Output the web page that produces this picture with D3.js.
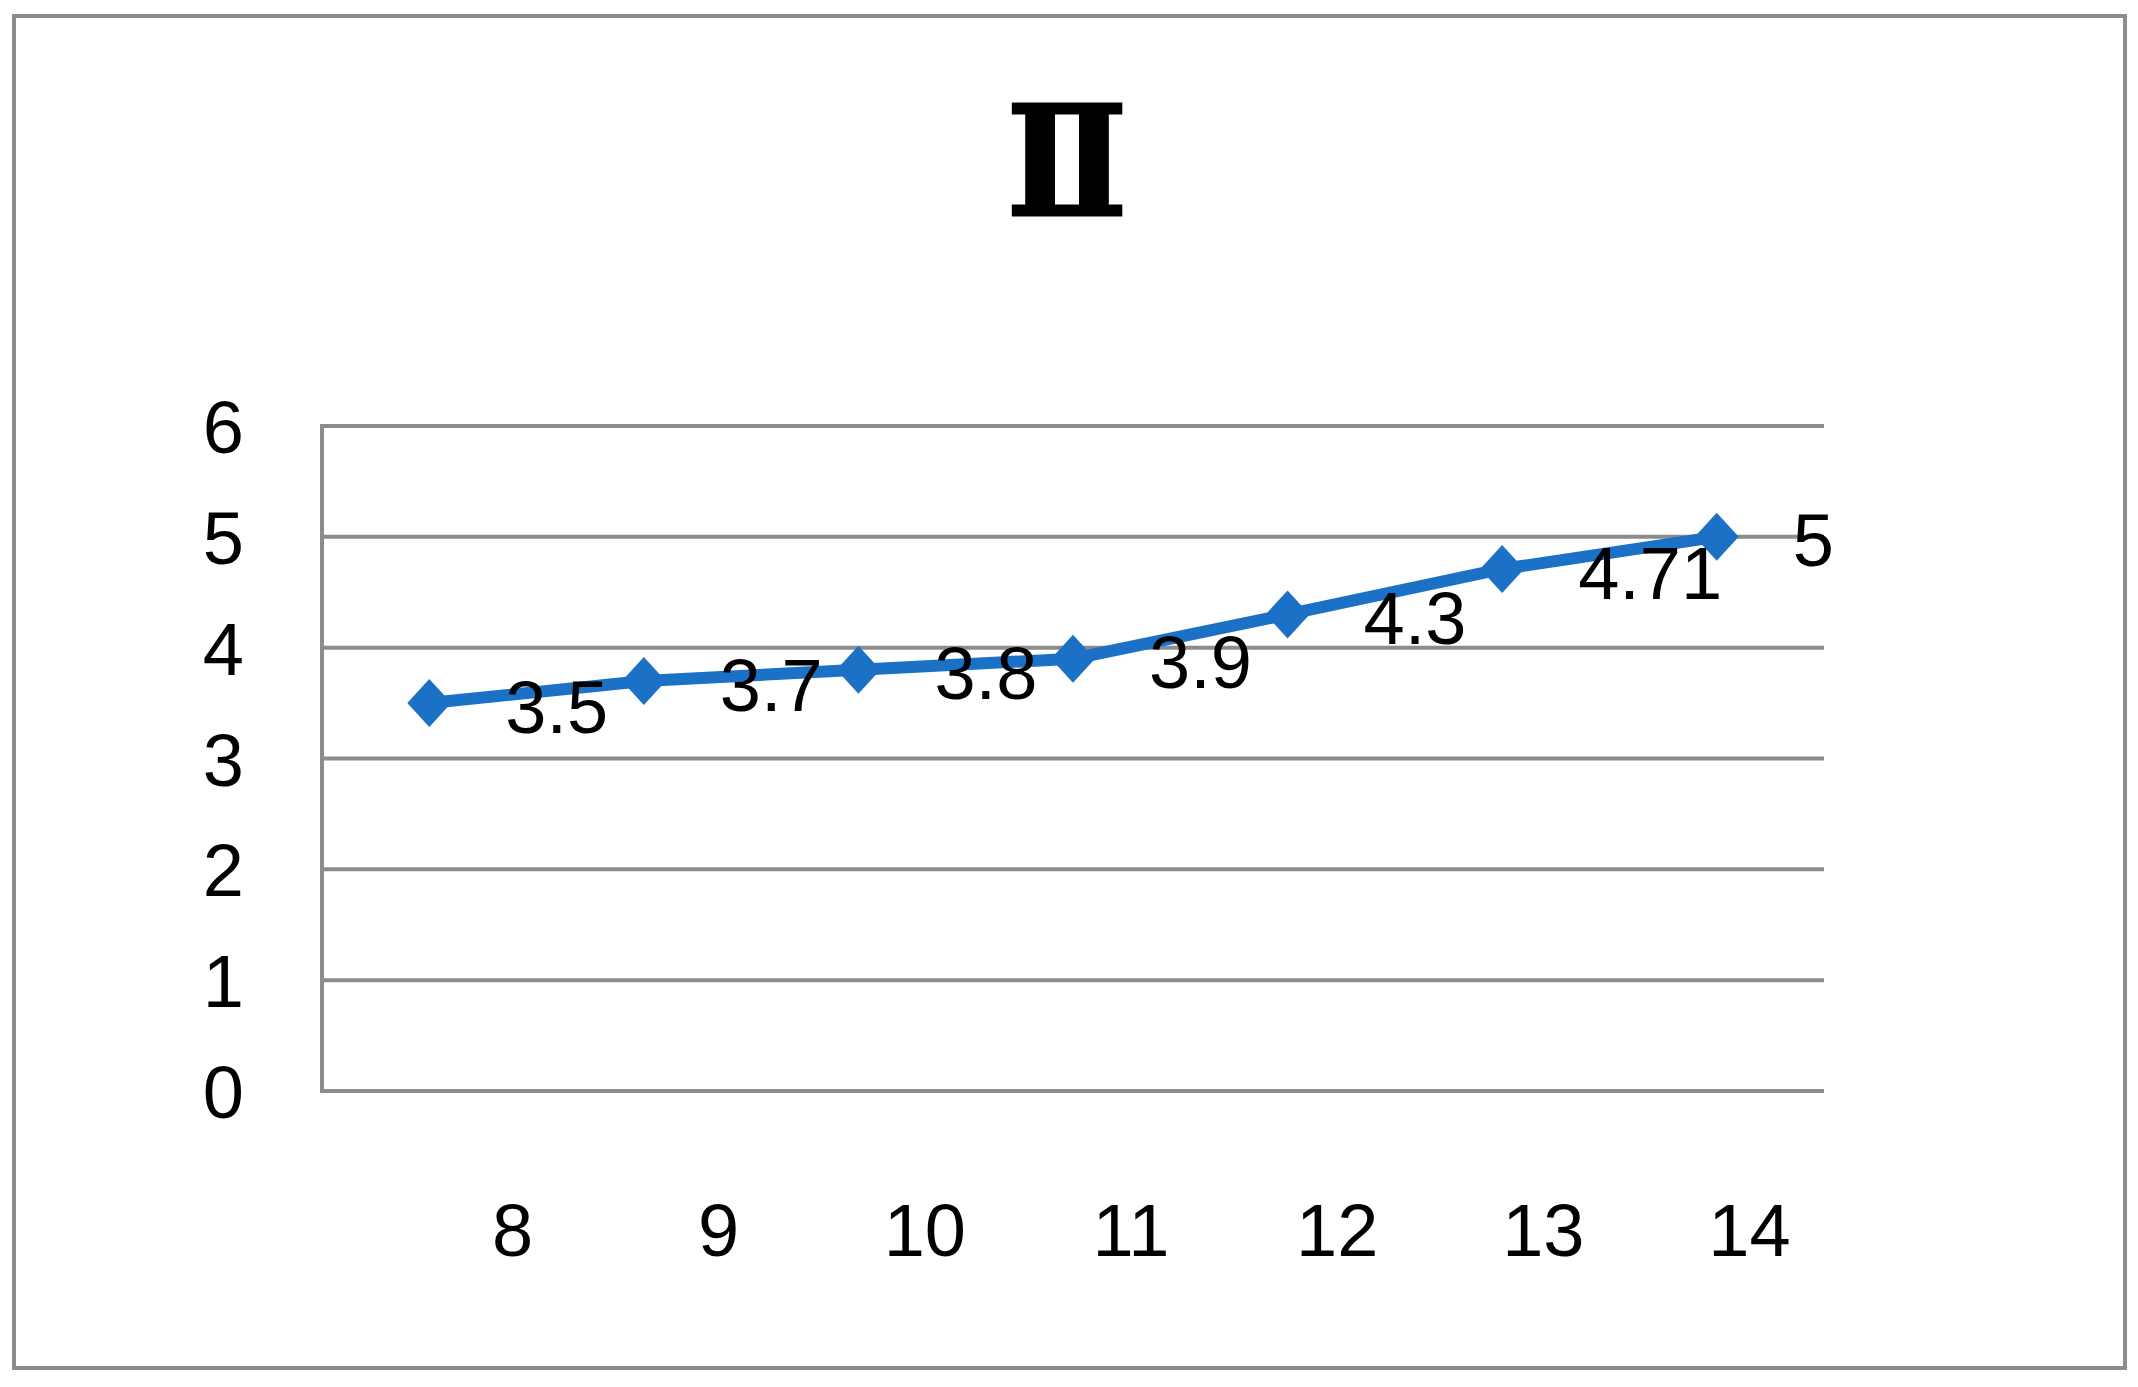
<!DOCTYPE html>
<html>
<head>
<meta charset="utf-8">
<script src="https://cdn.jsdelivr.net/npm/d3@7"></script>
<style>
  html, body { margin: 0; padding: 0; background: #ffffff; }
  svg { display: block; }
</style>
</head>
<body>
<svg id="chart" width="2138" height="1387"></svg>
<script>
// ---- data ----
const title = "Ⅱ";
const categories = ["8", "9", "10", "11", "12", "13", "14"];
const values = [3.5, 3.7, 3.8, 3.9, 4.3, 4.71, 5];
const valueLabels = ["3.5", "3.7", "3.8", "3.9", "4.3", "4.71", "5"];
const yTicks = [0, 1, 2, 3, 4, 5, 6];

// ---- layout ----
const plot = { left: 322, right: 1824, top: 426, bottom: 1091 };
const gray = "#8c8c8c";
const blue = "#1a71c6";
const font = "'Liberation Sans', Arial, sans-serif";

const svg = d3.select("#chart");

// outer frame
svg.append("rect")
  .attr("x", 14).attr("y", 16)
  .attr("width", 2111).attr("height", 1352)
  .attr("fill", "#fff")
  .attr("stroke", gray)
  .attr("stroke-width", 4);

// title
svg.append("text")
  .attr("x", 1067).attr("y", 215)
  .attr("text-anchor", "middle")
  .attr("textLength", 121)
  .attr("lengthAdjust", "spacingAndGlyphs")
  .attr("font-family", "'DejaVu Serif', 'Liberation Serif', serif")
  .attr("font-weight", "bold")
  .attr("font-size", 152)
  .attr("fill", "#000")
  .attr("stroke", "#000")
  .attr("stroke-width", 3)
  .text(title);

// scales
const x = d3.scaleBand().domain(categories).range([plot.left, plot.right]).padding(0);
const y = d3.scaleLinear().domain([0, 6]).range([plot.bottom, plot.top]);
const xLabel = d3.scalePoint().domain(categories).range([plot.left + 190, plot.right - 75]);

// gridlines
svg.append("g")
  .selectAll("line")
  .data(yTicks)
  .join("line")
  .attr("x1", plot.left).attr("x2", plot.right)
  .attr("y1", d => y(d)).attr("y2", d => y(d))
  .attr("stroke", gray)
  .attr("stroke-width", 4);

// vertical axis line
svg.append("line")
  .attr("x1", plot.left).attr("x2", plot.left)
  .attr("y1", y(6) - 2).attr("y2", y(0) + 2)
  .attr("stroke", gray)
  .attr("stroke-width", 4);

// y axis labels
const yAxis = d3.axisLeft(y).tickValues(yTicks).tickSize(0).tickPadding(0).tickFormat(d3.format("d"));
const gy = svg.append("g").attr("transform", `translate(${plot.left - 78},0)`).call(yAxis);
gy.select(".domain").remove();
gy.selectAll("text")
  .attr("font-family", font)
  .attr("font-size", 74)
  .attr("fill", "#000")
  .attr("dy", "0.36em");

// x axis labels
const xAxis = d3.axisBottom(xLabel).tickSize(0).tickPadding(0);
const gx = svg.append("g").attr("transform", `translate(0,1229)`).call(xAxis);
gx.select(".domain").remove();
gx.selectAll("text")
  .attr("font-family", font)
  .attr("font-size", 74)
  .attr("fill", "#000")
  .attr("dy", "0.36em");

const pts = categories.map((c, i) => ({ c, v: values[i], label: valueLabels[i] }));
const cx = d => x(d.c) + x.bandwidth() / 2;

// line
svg.append("path")
  .datum(pts)
  .attr("fill", "none")
  .attr("stroke", blue)
  .attr("stroke-width", 12)
  .attr("stroke-linejoin", "round")
  .attr("d", d3.line().x(cx).y(d => y(d.v)));

// diamond markers
svg.append("g")
  .selectAll("path")
  .data(pts)
  .join("path")
  .attr("transform", d => `translate(${cx(d)},${y(d.v)})`)
  .attr("d", "M0,-24L22,0L0,24L-22,0Z")
  .attr("fill", blue);

// data labels
svg.append("g")
  .selectAll("text")
  .data(pts)
  .join("text")
  .attr("x", d => cx(d) + 76)
  .attr("y", d => y(d.v) + 3)
  .attr("dy", "0.36em")
  .attr("font-family", font)
  .attr("font-size", 74)
  .attr("fill", "#000")
  .text(d => d.label);
</script>
</body>
</html>
